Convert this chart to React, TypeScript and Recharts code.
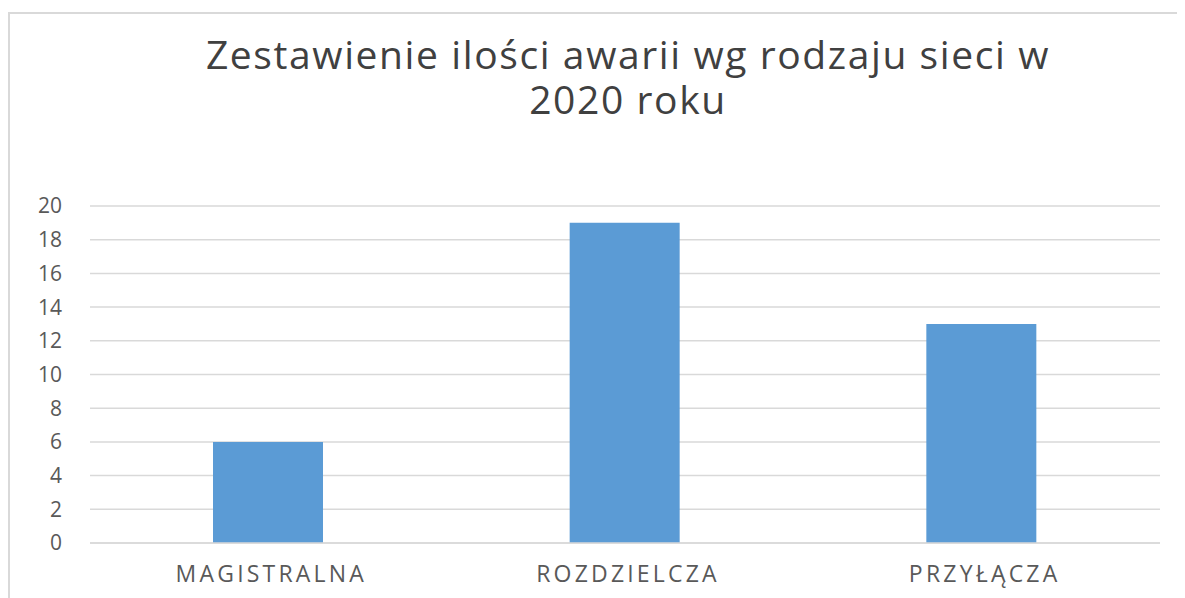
import { BarChart, Bar, XAxis, YAxis, CartesianGrid } from 'recharts';

// Chart data
const categories = ['MAGISTRALNA', 'ROZDZIELCZA', 'PRZYŁĄCZA'];
const awarie = [6, 19, 13];
const yTicks = [0, 2, 4, 6, 8, 10, 12, 14, 16, 18, 20];
const titleLines = ['Zestawienie ilości awarii wg rodzaju sieci w', '2020 roku'];

const chartData = categories.map((name, i) => ({ name, value: awarie[i] }));

const FONT = '"Open Sans", "DejaVu Sans", sans-serif';

export default function App() {
  return (
    <div
      style={{
        position: 'relative',
        marginTop: 4,
        width: 1175,
        height: 584,
        borderTop: '2px solid #d9d9d9',
        borderLeft: '2px solid #d9d9d9',
        background: '#fff',
        fontFamily: FONT,
      }}
    >
      {titleLines.map((l, i) => (
        <div
          key={l}
          style={{
            position: 'absolute',
            left: 0,
            top: 19 + i * 45,
            width: 1236,
            textAlign: 'center',
            fontSize: 39,
            lineHeight: '42px',
            color: '#404040',
            letterSpacing: 1.6,
          }}
        >
          {l}
        </div>
      ))}
      <BarChart
        width={1175}
        height={584}
        data={chartData}
        margin={{ top: 192, right: 25, left: 20, bottom: 25 }}
        style={{ position: 'absolute', left: 0, top: 0 }}
      >
        <CartesianGrid vertical={false} stroke="#d9d9d9" strokeWidth={1.5} />
        <XAxis
          dataKey="name"
          axisLine={{ stroke: '#d9d9d9', strokeWidth: 1.5 }}
          tickLine={false}
          tickSize={0}
          tickMargin={23}
          height={30}
          dx={3}
          tick={{ fill: '#595959', fontSize: 23, fontFamily: FONT, letterSpacing: 3.2 }}
        />
        <YAxis
          domain={[0, 20]}
          ticks={yTicks}
          interval={0}
          axisLine={false}
          tickLine={false}
          tickSize={0}
          tickMargin={28}
          width={60}
          tick={{ fill: '#595959', fontSize: 21, fontFamily: FONT }}
        />
        <Bar dataKey="value" fill="#5b9bd5" barSize={110} isAnimationActive={false} />
      </BarChart>
    </div>
  );
}
